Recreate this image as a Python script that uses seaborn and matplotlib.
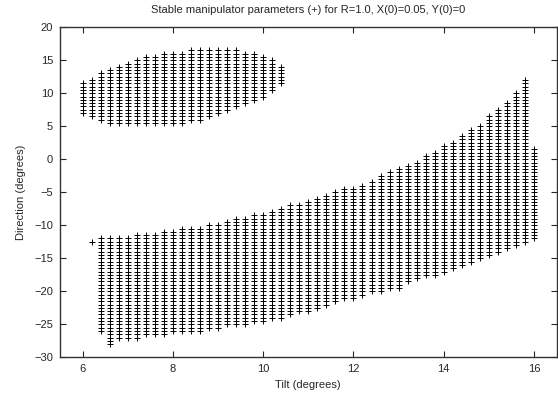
import numpy as np
import pandas as pd
import matplotlib
matplotlib.use("Agg")
import matplotlib.pyplot as plt
import seaborn as sns

# grid step of the direction scan (degrees)
dir_step = 0.5

# upper stable region: tilt columns with lowest / highest stable direction
upper_tilt = [6.0, 6.2, 6.4, 6.6, 6.8, 7.0, 7.2, 7.4, 7.6, 7.8, 8.0, 8.2, 8.4,
              8.6, 8.8, 9.0, 9.2, 9.4, 9.6, 9.8, 10.0, 10.2, 10.4]
upper_low = [7.0, 6.5, 6.0, 5.5, 5.5, 5.5, 5.5, 5.5, 5.5, 5.5, 5.5, 5.5, 6.0,
             6.0, 6.5, 7.0, 7.5, 8.0, 8.5, 9.0, 9.5, 10.5, 11.5]
upper_high = [11.5, 12.0, 13.0, 13.5, 14.0, 14.5, 15.0, 15.5, 15.5, 16.0, 16.0, 16.0, 16.5,
              16.5, 16.5, 16.5, 16.5, 16.5, 16.0, 16.0, 15.5, 15.0, 14.0]

# lower stable region
lower_tilt = [6.2, 6.4, 6.6, 6.8, 7.0, 7.2, 7.4, 7.6, 7.8, 8.0, 8.2, 8.4, 8.6, 8.8,
              9.0, 9.2, 9.4, 9.6, 9.8, 10.0, 10.2, 10.4, 10.6, 10.8, 11.0, 11.2,
              11.4, 11.6, 11.8, 12.0, 12.2, 12.4, 12.6, 12.8, 13.0, 13.2, 13.4,
              13.6, 13.8, 14.0, 14.2, 14.4, 14.6, 14.8, 15.0, 15.2, 15.4, 15.6,
              15.8, 16.0]
lower_low = [-12.5, -26.0, -28.0, -27.0, -27.0, -27.0, -26.5, -26.5, -26.5, -26.0, -26.0,
             -26.0, -26.0, -25.5, -25.5, -25.0, -25.0, -25.0, -24.5, -24.5, -24.0,
             -24.0, -23.5, -23.0, -23.0, -22.5, -22.0, -21.5, -21.0, -21.0, -20.5,
             -20.0, -20.0, -19.5, -19.5, -18.5, -18.0, -17.5, -17.5, -17.0, -16.5,
             -16.0, -15.5, -15.0, -14.5, -14.0, -13.5, -13.0, -12.5, -12.0]
lower_high = [-12.5, -12.0, -12.0, -12.0, -12.0, -11.5, -11.5, -11.5, -11.0, -11.0, -10.5,
              -10.5, -10.5, -10.0, -10.0, -9.5, -9.0, -9.0, -8.5, -8.5, -8.0,
              -7.5, -7.0, -7.0, -6.5, -6.0, -5.5, -5.0, -4.5, -4.5, -4.0,
              -3.5, -2.5, -2.0, -1.5, -1.0, -0.5, 0.5, 1.0, 2.0, 2.5,
              3.5, 4.5, 5.0, 6.5, 7.5, 8.5, 10.0, 12.0, 1.5]

rows = []
for tilts, lows, highs in [(upper_tilt, upper_low, upper_high),
                           (lower_tilt, lower_low, lower_high)]:
    for t, lo, hi in zip(tilts, lows, highs):
        for d in np.arange(lo, hi + dir_step / 2, dir_step):
            rows.append((t, d))
df = pd.DataFrame(rows, columns=["tilt", "direction"])

sns.set_style("ticks")
plt.rcParams["font.family"] = ["Liberation Sans", "DejaVu Sans"]

fig = plt.figure(figsize=(5.58, 3.94), dpi=100)
ax = fig.add_axes([0.1075, 0.093, 0.89, 0.838])

sns.scatterplot(data=df, x="tilt", y="direction", marker="+", color="black",
                s=16, linewidth=0.7, ax=ax, legend=False)

ax.set_xlim(5.5, 16.5)
ax.set_ylim(-30, 20)
ax.set_xticks([6, 8, 10, 12, 14, 16])
ax.set_yticks(range(-30, 21, 5))
ax.tick_params(direction="in", top=True, right=True, length=4, width=0.8,
               labelsize=8, pad=5)
for s in ax.spines.values():
    s.set_visible(True)
    s.set_linewidth(1.0)
    s.set_color("#333333")

ax.set_xlabel("Tilt (degrees)", fontsize=8, labelpad=4)
ax.set_ylabel("Direction (degrees)", fontsize=8, labelpad=6)
ax.set_title("Stable manipulator parameters (+) for R=1.0, X(0)=0.05, Y(0)=0",
             fontsize=8, pad=10)

fig.savefig("out.png", dpi=100)
